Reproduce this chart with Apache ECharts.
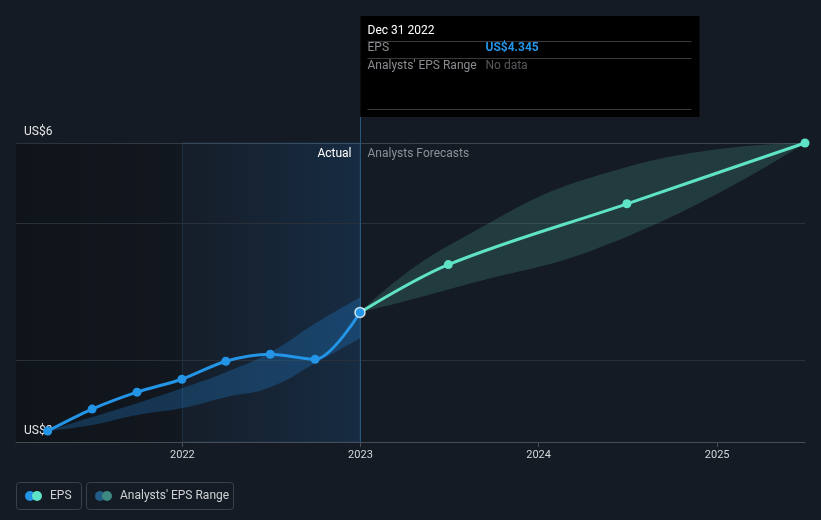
<!DOCTYPE html>
<html><head><meta charset="utf-8">
<script src="https://cdn.jsdelivr.net/npm/echarts@6/dist/echarts.min.js"></script>
<style>html,body{margin:0;padding:0;background:#151b24;}#c{width:821px;height:520px;}</style>
</head><body><div id="c"></div>
<script>
// ---- data ----
const actualDates = ['2021-03-31','2021-06-30','2021-09-30','2021-12-31','2022-03-31','2022-06-30','2022-09-30','2022-12-31'];
const epsActual   = [3.11, 3.33, 3.50, 3.63, 3.81, 3.88, 3.83, 4.30];
const pastRangeLow  = [3.11, 3.17, 3.27, 3.34, 3.45, 3.55, 3.79, 4.04];
const pastRangeHigh = [3.11, 3.25, 3.39, 3.54, 3.70, 3.90, 4.19, 4.45];
const forecastDates = ['2022-12-31','2023-06-30','2024-06-30','2025-06-30'];
const epsForecast   = [4.30, 4.78, 5.39, 6.00];
const fcRangeLow    = [4.30, 4.53, 5.06, 6.00];
const fcRangeHigh   = [4.30, 4.97, 5.76, 6.00];
const innerGridValues = [3.82, 5.19];
const yTickValues = [3, 6];
const xMin = '2021-01-25', xMax = '2025-06-30';
const splitDate = '2022-12-31', pastShadeStart = '2022-01-01';
const tooltipTitle = 'Dec 31 2022', tooltipEps = 'US$4.345', tooltipRange = 'No data';

const FONT = 'Roboto, "Noto Sans", sans-serif';
const BLUE = '#2394e6', TEAL = '#5fe3c6';

const pair = (ds, vs) => ds.map((d, i) => [d, vs[i]]);
const diff = (hi, lo) => hi.map((v, i) => +(v - lo[i]).toFixed(4));

const chart = echarts.init(document.getElementById('c'), null, {renderer: 'canvas'});

chart.setOption({
  backgroundColor: '#151b24',
  animation: false,
  grid: {left: 16, right: 16, top: 143, bottom: 78},
  xAxis: {
    type: 'time', min: xMin, max: xMax,
    minInterval: 365 * 24 * 3600 * 1000, maxInterval: 366 * 24 * 3600 * 1000,
    axisLine: {lineStyle: {color: '#474c55', width: 1}},
    axisTick: {show: true, length: 5, lineStyle: {color: '#474c55'}},
    axisLabel: {color: '#d4d6da', fontFamily: FONT, fontSize: 11, margin: 8, formatter: '{yyyy}',
      showMinLabel: false, showMaxLabel: false},
    splitLine: {show: false}
  },
  yAxis: {
    type: 'value', min: yTickValues[0], max: yTickValues[1], interval: yTickValues[1] - yTickValues[0],
    axisLine: {show: false}, axisTick: {show: false},
    splitLine: {show: true, lineStyle: {color: '#3d434c', width: 1}},
    axisLabel: {inside: true, color: '#e6e6e6', fontFamily: FONT, fontSize: 12, margin: 8,
      verticalAlign: 'bottom', padding: [0, 0, 5, 0], formatter: v => 'US$' + v}
  },
  series: [
    { // background shading + gridlines
      type: 'line', data: [], silent: true, z: 0,
      markArea: {silent: true, z: 0, data: [
        [{xAxis: xMin, itemStyle: {color: {type: 'linear', x: 0, y: 0, x2: 1, y2: 0,
            colorStops: [{offset: 0, color: 'rgba(0,0,0,0.28)'}, {offset: 1, color: 'rgba(0,0,0,0.12)'}]}}},
         {xAxis: pastShadeStart}],
        [{xAxis: pastShadeStart, itemStyle: {borderColor: 'rgba(40,90,130,0.35)', borderWidth: 1,
            color: {type: 'linear', x: 0, y: 0, x2: 1, y2: 0,
            colorStops: [{offset: 0, color: 'rgba(30,120,200,0.03)'}, {offset: 1, color: 'rgba(30,125,215,0.17)'}]}}},
         {xAxis: splitDate}]
      ]},
      markLine: {silent: true, z: 0, symbol: 'none', label: {show: false},
        data: innerGridValues.map(v => ({yAxis: v, lineStyle: {color: '#2a3039', width: 1, type: 'solid'}}))
          .concat([{xAxis: splitDate, lineStyle: {color: '#24577f', width: 1, type: 'solid'}}])}
    },
    {name: 'pastLow', type: 'line', stack: 'past', data: pair(actualDates, pastRangeLow), smooth: true,
      symbol: 'none', lineStyle: {opacity: 0}, silent: true, z: 1},
    {name: 'pastBand', type: 'line', stack: 'past', data: pair(actualDates, diff(pastRangeHigh, pastRangeLow)), smooth: true,
      symbol: 'none', lineStyle: {opacity: 0}, areaStyle: {color: 'rgba(35,140,225,0.38)'}, silent: true, z: 1},
    {name: 'fcLow', type: 'line', stack: 'fc', data: pair(forecastDates, fcRangeLow), smooth: true,
      symbol: 'none', lineStyle: {opacity: 0}, silent: true, z: 1},
    {name: 'fcBand', type: 'line', stack: 'fc', data: pair(forecastDates, diff(fcRangeHigh, fcRangeLow)), smooth: true,
      symbol: 'none', lineStyle: {opacity: 0}, areaStyle: {color: 'rgba(88,200,180,0.27)'}, silent: true, z: 1},
    {name: 'Forecast', type: 'line', data: pair(forecastDates, epsForecast), smooth: 0.35, z: 5,
      symbol: 'circle', symbolSize: 9, showSymbol: true, itemStyle: {color: TEAL},
      lineStyle: {color: TEAL, width: 3}},
    {name: 'EPS', type: 'line', data: pair(actualDates.slice(0, -1), epsActual.slice(0, -1))
        .concat([pair(actualDates, epsActual)[actualDates.length - 1]]), smooth: 0.3, z: 6,
      symbol: 'circle', symbolSize: 9, itemStyle: {color: BLUE},
      lineStyle: {color: BLUE, width: 3}},
    {name: 'Latest', type: 'scatter', data: [pair(actualDates, epsActual)[actualDates.length - 1]], z: 7,
      symbol: 'circle', symbolSize: 10, itemStyle: {color: BLUE, borderColor: '#ffffff', borderWidth: 1.5}, clip: false}
  ]
});

// overlay texts (tooltip box, period labels, legend)
const px = chart.convertToPixel({gridIndex: 0}, [splitDate, 6]);
const sx = Math.round(px[0]) + 0.5, topY = px[1];
const tipL = sx, tipT = 16, tipW = 339, tipH = 101;
const T = (x, y, text, fill, extra) => ({type: 'text', x, y,
  style: Object.assign({text, fill, font: '12px ' + FONT, textVerticalAlign: 'middle'}, extra || {})});
const L = (x1, y1, x2, y2, stroke) => ({type: 'line', shape: {x1, y1, x2, y2}, style: {stroke, lineWidth: 1}});
const leg = [];
function legendBox(x, w, label, c1, c2) {
  leg.push({type: 'rect', shape: {x: x + 0.5, y: 482.5, width: w, height: 27, r: 3},
    style: {fill: 'transparent', stroke: '#3b4049', lineWidth: 1}});
  leg.push({type: 'circle', shape: {cx: x + 14, cy: 496, r: 5}, style: {fill: c1}});
  leg.push({type: 'circle', shape: {cx: x + 21, cy: 496, r: 5}, style: {fill: c2}});
  leg.push(T(x + 34, 496, label, '#cfd1d4'));
}
legendBox(16, 65, 'EPS', '#2394e6', '#5fe3c6');
legendBox(86, 147, "Analysts' EPS Range", '#235d86', '#3d8a80');

chart.setOption({graphic: [
  L(sx, tipT + tipH, sx, topY, '#24577f'),
  {type: 'rect', shape: {x: tipL, y: tipT, width: tipW, height: tipH}, style: {fill: '#000000'}},
  T(tipL + 7, 31, tooltipTitle, '#ffffff'),
  L(tipL + 7, 41.5, tipL + 331, 41.5, '#3a3a3a'),
  T(tipL + 7, 48, 'EPS', '#8a8d92'),
  T(tipL + 125, 48, tooltipEps, '#2394e6', {font: 'bold 12px ' + FONT}),
  L(tipL + 7, 58.5, tipL + 331, 58.5, '#3a3a3a'),
  T(tipL + 7, 66, "Analysts' EPS Range", '#8a8d92'),
  T(tipL + 125, 66, tooltipRange, '#55585c'),
  L(tipL + 7, 109.5, tipL + 331, 109.5, '#3a3a3a'),
  T(sx - 9, 154, 'Actual', '#ffffff', {textAlign: 'right'}),
  T(sx + 7, 154, 'Analysts Forecasts', '#8d9096')
].concat(leg)});
</script></body></html>
